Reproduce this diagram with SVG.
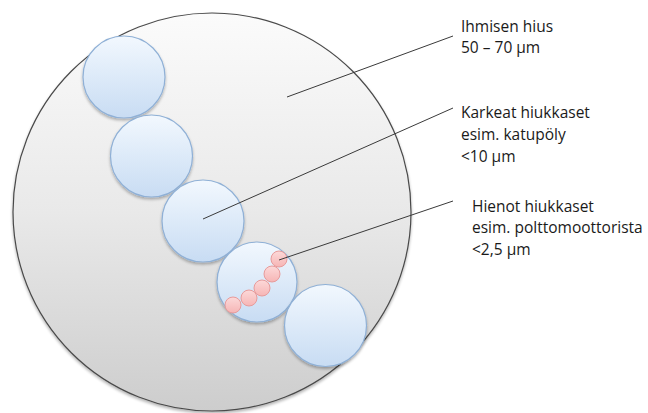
<svg xmlns="http://www.w3.org/2000/svg" width="648" height="413" viewBox="0 0 648 413">
<defs>
<linearGradient id="gBig" x1="0" y1="0" x2="0" y2="1">
<stop offset="0" stop-color="#fbfbfb"/>
<stop offset="0.5" stop-color="#e9e9e9"/>
<stop offset="1" stop-color="#cdcdcd"/>
</linearGradient>
<linearGradient id="gBlue" x1="0" y1="0" x2="0" y2="1">
<stop offset="0" stop-color="#f2f8fe"/>
<stop offset="1" stop-color="#c8dcf3"/>
</linearGradient>
<linearGradient id="gPink" x1="0" y1="0" x2="0" y2="1">
<stop offset="0" stop-color="#fcd9d9"/>
<stop offset="1" stop-color="#f6b5b5"/>
</linearGradient>
<filter id="sh" x="-20%" y="-20%" width="140%" height="140%">
<feGaussianBlur in="SourceAlpha" stdDeviation="1.5"/>
<feOffset dx="0" dy="1.5" result="b"/>
<feComponentTransfer><feFuncA type="linear" slope="0.3"/></feComponentTransfer>
<feMerge><feMergeNode/><feMergeNode in="SourceGraphic"/></feMerge>
</filter>
</defs>
<style>
.big{fill:url(#gBig);stroke:#4a4a4a;stroke-width:1.2}
.blue{fill:url(#gBlue);stroke:#8fb0d6;stroke-width:1.2}
.pink{fill:url(#gPink);stroke:#e79b9b;stroke-width:1}
.ln{stroke:#3a3a3a;stroke-width:1;fill:none}
text{font-family:"Open Sans","Liberation Sans",sans-serif;font-size:15.5px;fill:#1a1a1a}
</style>
<g id="hair"><circle class="big" cx="212" cy="212" r="199" filter="url(#sh)"/></g>
<g id="coarse">
<circle class="blue" cx="124" cy="77" r="41" filter="url(#sh)"/>
<circle class="blue" cx="151.5" cy="156" r="41" filter="url(#sh)"/>
<circle class="blue" cx="203" cy="221" r="41" filter="url(#sh)"/>
<circle class="blue" cx="257" cy="282" r="40" filter="url(#sh)"/>
<circle class="blue" cx="325.5" cy="325.5" r="41" filter="url(#sh)"/>
</g>
<g id="fine">
<circle class="pink" cx="233" cy="305" r="8"/>
<circle class="pink" cx="249" cy="298" r="8"/>
<circle class="pink" cx="262" cy="288" r="8"/>
<circle class="pink" cx="272" cy="274" r="8"/>
<circle class="pink" cx="279" cy="259" r="8"/>
</g>
<g id="connectors">
<line class="ln" x1="287" y1="97" x2="453" y2="36"/>
<line class="ln" x1="203" y1="219" x2="453" y2="108"/>
<line class="ln" x1="279" y1="260" x2="453" y2="201"/>
</g>
<g id="label-hair">
<text x="461" y="32">Ihmisen hius</text>
<text x="461" y="53">50 – 70 µm</text>
</g>
<g id="label-coarse">
<text x="461" y="118">Karkeat hiukkaset</text>
<text x="461" y="140">esim. katupöly</text>
<text x="461" y="162">&lt;10 µm</text>
</g>
<g id="label-fine">
<text x="472" y="212">Hienot hiukkaset</text>
<text x="472" y="233">esim. polttomoottorista</text>
<text x="472" y="255">&lt;2,5 µm</text>
</g>
</svg>
